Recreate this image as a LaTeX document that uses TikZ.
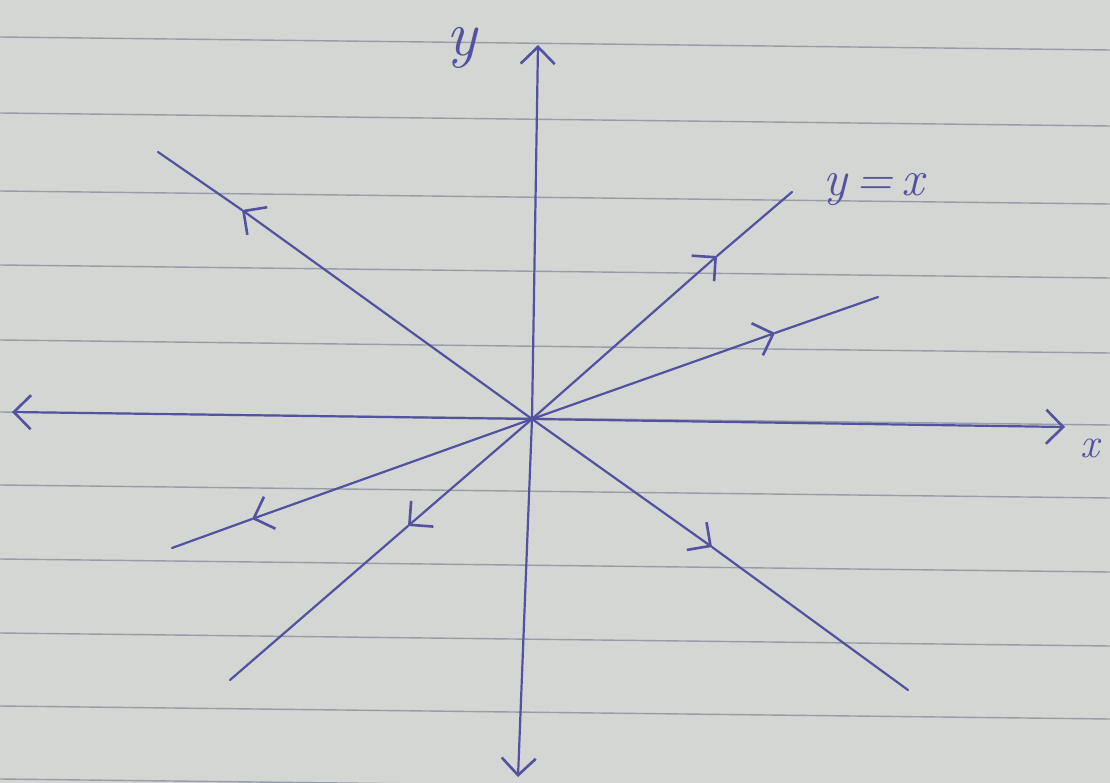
\documentclass[tikz,border=0pt]{standalone}
\usetikzlibrary{arrows.meta}
\definecolor{paper}{HTML}{D4D6D3}
\definecolor{rule}{HTML}{979DA8}
\definecolor{ink}{HTML}{5252A0}
\tikzset{
  ruled/.style={rule, line width=1.4pt},
  inkline/.style={ink, line width=2.2pt, line cap=round},
  barb/.style={ink, line width=2.2pt, -{Straight Barb[length=17pt,width=34pt,line width=2.6pt]}},
  lbl/.style={ink, inner sep=0pt}
}
\begin{document}
\begin{tikzpicture}[x=1pt,y=-1pt]
\fill[paper] (0,0) rectangle (1110,783);
\useasboundingbox (0,0) rectangle (1110,783);
% ruled lines
\foreach \yy in {37,113,191,265,340,412,485,559,633,706,779}{
  \draw[ruled] (0,\yy) -- (1110,\yy+13);
}
% key points
\coordinate (O) at (532,419);
\coordinate (xL) at (12,412);
\coordinate (xR) at (1065,427);
\coordinate (yT) at (538,45);
\coordinate (yB) at (518,777);
\coordinate (dA) at (230,680);
\coordinate (dB) at (792,192);
\coordinate (sA) at (172,548);
\coordinate (sB) at (878,297);
\coordinate (nA) at (158,152);
\coordinate (nB) at (908,690);
\coordinate (dT1) at (717,256);
\coordinate (dT2) at (408,526);
\coordinate (sT1) at (775,333);
\coordinate (sT2) at (252,519);
\coordinate (nT1) at (242,210);
\coordinate (nT2) at (712,547);
% line pieces beyond the mid arrows
\draw[inkline] (dT1) -- (dB);
\draw[inkline] (dT2) -- (dA);
\draw[inkline] (sT1) -- (sB);
\draw[inkline] (sT2) -- (sA);
\draw[inkline] (nT1) -- (nA);
\draw[inkline] (nT2) -- (nB);
% axes
\draw[barb] (O) -- (xR);
\draw[barb] (O) -- (xL);
\draw[barb] (O) -- (yT);
\draw[barb] (O) -- (yB);
% mid arrows
\draw[barb] (O) -- (dT1);
\draw[barb] (O) -- (dT2);
\draw[barb] (O) -- (sT1);
\draw[barb] (O) -- (sT2);
\draw[barb] (O) -- (nT1);
\draw[barb] (O) -- (nT2);
% labels
\node[lbl, font=\fontsize{64}{64}\selectfont\itshape] (ly) at (462,48) {y};
\node[lbl, font=\fontsize{50}{50}\selectfont\itshape] (lyx) at (874,190) {y\,=\,x};
\node[lbl, font=\fontsize{42}{42}\selectfont\itshape] (lx) at (1090,448) {x};
\end{tikzpicture}
\end{document}
